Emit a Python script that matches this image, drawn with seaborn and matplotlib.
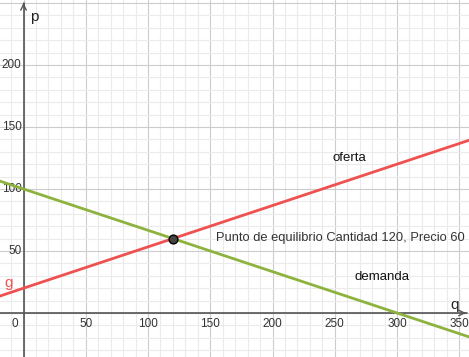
import matplotlib
matplotlib.use("Agg")
import matplotlib.pyplot as plt
import seaborn as sns
import pandas as pd

# data
cantidad = [-20, 0, 120, 300, 360]
oferta = [13.3, 20, 60, 120, 140]
demanda = [106.7, 100, 60, 0, -20]
equilibrio_q = [120]
equilibrio_p = [60]
x_ticks = [50, 100, 150, 200, 250, 300, 350]
y_ticks = [50, 100, 150, 200]

df = pd.DataFrame({"q": cantidad, "oferta": oferta, "demanda": demanda})

sns.set_style("white")
plt.rcParams['font.family'] = ['Liberation Sans', 'DejaVu Sans']

fig = plt.figure(figsize=(4.69, 3.57), dpi=100)
ax = fig.add_axes([0, 0, 1, 1])
ax.set_xlim(-18.9, 357.8)
ax.set_ylim(-35.5, 252.4)
for s in ax.spines.values():
    s.set_visible(False)
ax.set_xticks([])
ax.set_yticks([])

# grid: minor every 10, major every 50
for v in range(-10, 360, 10):
    ax.axvline(v, color='#ebebeb' if v % 50 else '#cccccc', lw=0.8, zorder=0)
for v in range(-30, 260, 10):
    ax.axhline(v, color='#ebebeb' if v % 50 else '#cccccc', lw=0.8, zorder=0)

# axes with arrows
ax.plot([-18.9, 356], [0, 0], color='#555555', lw=1.2, zorder=1)
ax.plot([0, 0], [-35.5, 250], color='#555555', lw=1.2, zorder=1)
ax.annotate('', xy=(357.5, 0), xytext=(352, 0),
            arrowprops=dict(arrowstyle='->', color='#555555', lw=1.0))
ax.annotate('', xy=(0, 252.2), xytext=(0, 246),
            arrowprops=dict(arrowstyle='->', color='#555555', lw=1.0))
ax.text(5, 239, 'p', fontsize=11, color='#222222', va='center')
ax.text(346, 6.5, 'q', fontsize=11, color='#222222', ha='center', va='center')

for t in x_ticks:
    ax.text(t, -9, str(t), fontsize=8.5, color='#333333', ha='center', va='center')
ax.text(-7, -9, '0', fontsize=8.5, color='#333333', ha='center', va='center')
for t in y_ticks:
    ax.text(-1.5, t, str(t), fontsize=8.5, color='#333333', ha='right', va='center')

sns.lineplot(data=df, x='q', y='oferta', color='#ef5151', lw=2, ax=ax, zorder=3)
sns.lineplot(data=df, x='q', y='demanda', color='#8db33e', lw=2, ax=ax, zorder=3)
sns.scatterplot(x=equilibrio_q, y=equilibrio_p, color='#444444', edgecolor='black',
                s=40, linewidth=1, ax=ax, zorder=5)
ax.set_xlabel('')
ax.set_ylabel('')

ax.text(248.5, 125, 'oferta', fontsize=9.5, color='#111111', va='center')
ax.text(265.5, 29, 'demanda', fontsize=9.5, color='#111111', va='center')
ax.text(154.6, 60.5, 'Punto de equilibrio Cantidad 120, Precio 60', fontsize=9.3,
        color='#333333', va='center')
ax.text(-15.5, 24, 'g', fontsize=11, color='#ef5151', va='center')

fig.savefig('out.png', dpi=100)
